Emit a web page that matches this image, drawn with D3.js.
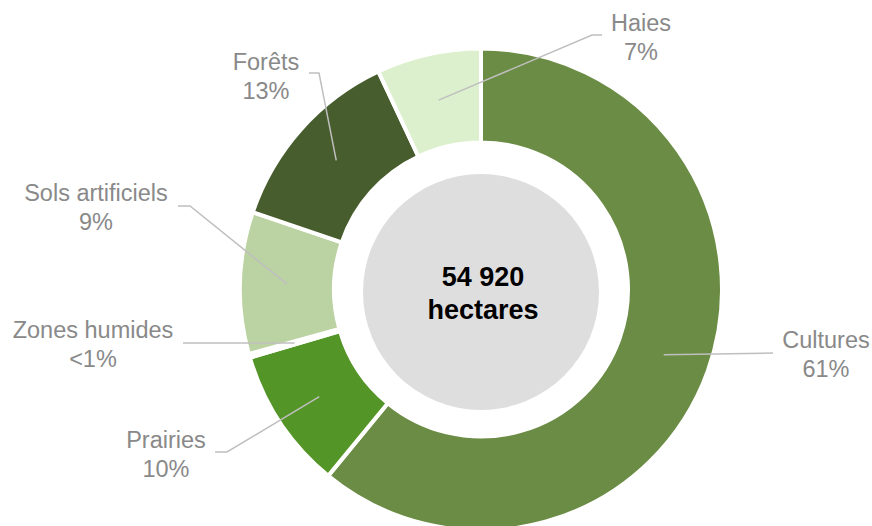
<!DOCTYPE html>
<html lang="fr">
<head>
<meta charset="UTF-8">
<title>Occupation du sol</title>
<script src="https://d3js.org/d3.v7.min.js"></script>
<style>
  body { margin: 0; background: #fff; }
  svg { display: block; font-family: "Liberation Sans", Arial, sans-serif; }
  .lbl { font-size: 23.5px; fill: #898989; text-anchor: middle; }
  .lead { fill: none; stroke: #bfbfbf; stroke-width: 1.5; }
  .total { font-size: 27px; font-weight: bold; fill: #000; text-anchor: middle; }
</style>
</head>
<body>
<script>
// data (share in %)
const categories = ["Cultures", "Prairies", "Zones humides", "Sols artificiels", "Forêts", "Haies"];
const values     = [60.9, 9.5, 0.25, 9.5, 12.8, 7.0];
const pctLabels  = ["61%", "10%", "<1%", "9%", "13%", "7%"];
const colors     = ["#6b8c44", "#539526", "#a7c48b", "#bbd2a2", "#485d2e", "#dcf0cd"];
const totalText  = ["54 920", "hectares"];

const width = 872, height = 526;
const cx = 481, cy = 289.5;
const outerR = 241, innerR = 147, holeR = 118;

// label layout: text centre x, first baseline, and the elbow of the leader line
const layout = {
  "Cultures":         { x: 826, y: 348, line: [[773, 353]] },
  "Prairies":         { x: 166, y: 448, line: [[215, 452], [227, 452]] },
  "Zones humides":    { x: 93,  y: 338, line: [[183, 343]] },
  "Sols artificiels": { x: 96,  y: 201, line: [[178, 206], [190, 206]] },
  "Forêts":           { x: 266, y: 70,  line: [[309, 73], [319, 73]] },
  "Haies":            { x: 641, y: 31,  line: [[602, 35], [592, 35]] }
};

const svg = d3.select("body").append("svg")
  .attr("width", width)
  .attr("height", height);

const g = svg.append("g").attr("transform", `translate(${cx},${cy})`);

const pie = d3.pie().sort(null).value(d => d.value);
const arc = d3.arc().innerRadius(innerR).outerRadius(outerR);

const rows = categories.map((c, i) => ({ name: c, value: values[i], pct: pctLabels[i], color: colors[i] }));
const arcs = pie(rows);

g.selectAll("path.slice")
  .data(arcs)
  .enter()
  .append("path")
  .attr("class", "slice")
  .attr("d", arc)
  .attr("fill", d => d.data.color)
  .attr("stroke", "#fff")
  .attr("stroke-width", 4)
  .attr("stroke-linejoin", "miter");

// grey disc in the hole
svg.append("circle")
  .attr("cx", cx)
  .attr("cy", cy + 2.5)
  .attr("r", holeR)
  .attr("fill", "#dfdedf");

svg.append("text")
  .attr("class", "total")
  .attr("x", cx + 2)
  .attr("y", 286)
  .text(totalText[0]);
svg.append("text")
  .attr("class", "total")
  .attr("x", cx + 2)
  .attr("y", 319)
  .text(totalText[1]);

// leader lines: from label elbow to the slice centroid
const line = d3.line();
arcs.forEach(d => {
  const lay = layout[d.data.name];
  const c = arc.centroid(d);
  const pts = lay.line.concat([[c[0] + cx, c[1] + cy]]);
  svg.append("path")
    .attr("class", "lead")
    .attr("d", line(pts));

  const t = svg.append("text")
    .attr("class", "lbl")
    .attr("x", lay.x)
    .attr("y", lay.y);
  t.append("tspan").attr("x", lay.x).text(d.data.name);
  t.append("tspan").attr("x", lay.x).attr("dy", 28.5).text(d.data.pct);
});
</script>
</body>
</html>
